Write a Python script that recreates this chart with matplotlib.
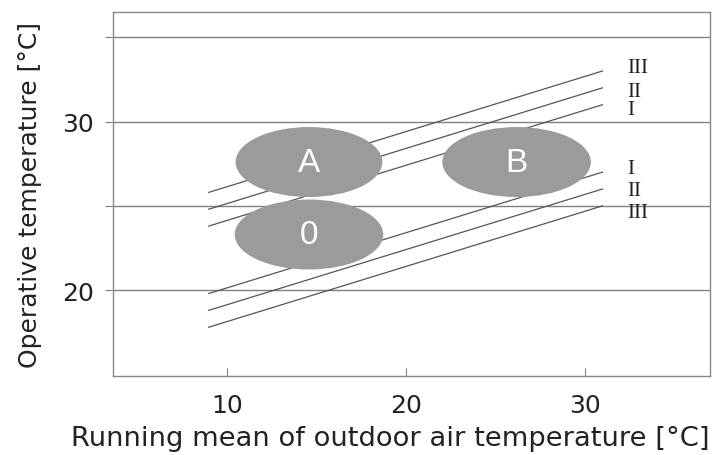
import matplotlib
matplotlib.use("Agg")
import matplotlib.pyplot as plt
from matplotlib.patches import Ellipse

# category boundary lines (start / end of running mean range)
x_ends = [9, 31]
upper = {"I": [23.8, 31.0], "II": [24.8, 32.0], "III": [25.8, 33.0]}
lower = {"I": [19.8, 27.0], "II": [18.8, 26.0], "III": [17.8, 25.0]}

# label positions for the category numerals
label_x = 32.4
upper_label_y = {"III": 33.2, "II": 31.8, "I": 30.7}
lower_label_y = {"I": 27.2, "II": 25.9, "III": 24.6}

# comfort zones: name, centre x, centre y, width, height
zones = [("A", 14.6, 27.6, 8.2, 4.15),
         ("B", 26.2, 27.6, 8.3, 4.15),
         ("0", 14.6, 23.3, 8.3, 4.15)]

grid_y = [20, 25, 30, 35]
xticks = [10, 20, 30]
yticks_labeled = [20, 30]

fig = plt.figure(figsize=(7.12, 4.56), dpi=100)
ax = fig.add_axes([0.1587, 0.173, 0.8383, 0.7985])
ax.set_xlim(3.65, 37.0)
ax.set_ylim(14.9, 36.5)

for y in grid_y:
    ax.axhline(y, color="#808080", lw=1.0, zorder=1)

for k in upper:
    ax.plot(x_ends, upper[k], color="#555555", lw=0.9, zorder=2)
    ax.plot(x_ends, lower[k], color="#555555", lw=0.9, zorder=2)

for name, cx, cy, w, h in zones:
    ax.add_patch(Ellipse((cx, cy), w, h, facecolor="#9b9b9b", edgecolor="none", zorder=3))
    ax.text(cx, cy, name, color="white", fontsize=24, family="Liberation Sans",
            ha="center", va="center", zorder=4)

for k, y in upper_label_y.items():
    ax.text(label_x, y, k, family="Liberation Serif", fontsize=15, color="#222222",
            ha="left", va="center")
for k, y in lower_label_y.items():
    ax.text(label_x, y, k, family="Liberation Serif", fontsize=15, color="#222222",
            ha="left", va="center")

for s in ax.spines.values():
    s.set_color("#888888")
    s.set_linewidth(1.0)

ax.set_xticks(xticks)
ax.set_yticks(grid_y)
ax.set_yticklabels([str(y) if y in yticks_labeled else "" for y in grid_y])
ax.tick_params(axis="x", direction="in", length=6, color="#888888", labelsize=18,
               labelcolor="#222222", pad=12)
ax.tick_params(axis="y", direction="out", length=6, color="#808080", labelsize=18,
               labelcolor="#222222", pad=8)

# x label sits slightly left of the axes centre in the original
fig.text(0.548, 0.037, "Running mean of outdoor air temperature [°C]", fontsize=19.7,
         color="#222222", ha="center", va="center")
ax.set_ylabel("Operative temperature [°C]", fontsize=18, color="#222222", labelpad=14)

fig.savefig("out.png", dpi=100)
